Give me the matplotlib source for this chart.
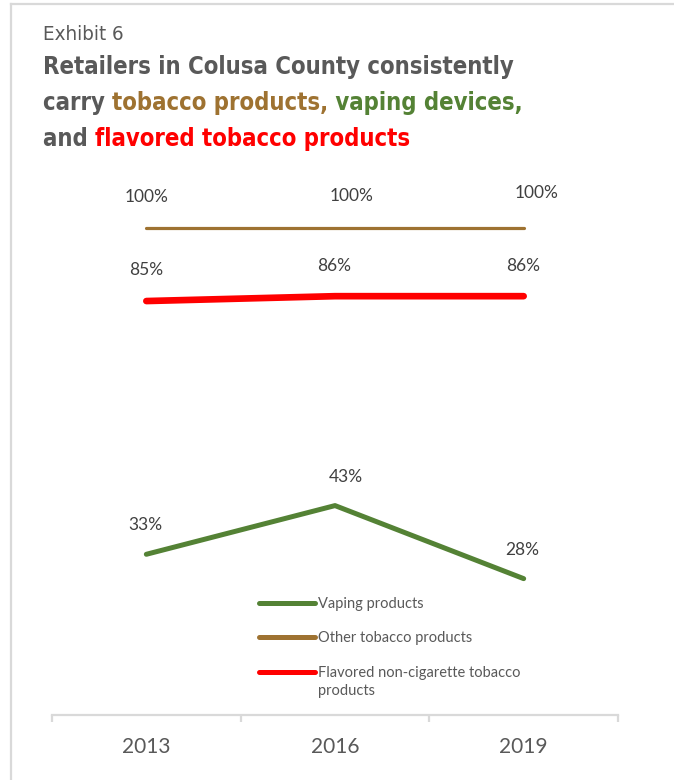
import matplotlib
matplotlib.use("Agg")
import matplotlib.pyplot as plt
from matplotlib.lines import Line2D
from matplotlib import font_manager as fm

years = ["2013", "2016", "2019"]
vaping = [33, 43, 28]
other_tobacco = [100, 100, 100]
flavored = [85, 86, 86]

# label offsets in pixels (dx, dy up) -- hand placed in the original
vaping_off = [(-1, 29), (11, 29), (-1, 29)]
other_off = [(0, 31), (17, 32), (13, 35)]
flavored_off = [(0, 31), (-1, 30), (-1, 30)]

GRAY = "#595959"
BROWN = "#9E7231"
GREEN = "#548235"
RED = "#FF0000"
LIGHT = "#D9D9D9"

# pick a narrow face for the headline if one is installed
narrow = None
for f in fm.fontManager.ttflist:
    n = f.name.lower()
    if "narrow" in n or "condensed" in n or f.stretch in ("condensed", "semi-condensed"):
        narrow = f
        break
if narrow is not None:
    head_family = [narrow.name, "DejaVu Sans"]
    head_stretch = narrow.stretch
else:
    head_family = ["DejaVu Sans"]
    head_stretch = "normal"

W, H = 674, 780
fig = plt.figure(figsize=(W / 100, H / 100), dpi=100)
renderer = fig.canvas.get_renderer()

# axes placed in pixel terms
left, right, top, bottom = 52, 618, 228, 715
ax = fig.add_axes([left / W, (H - bottom) / H, (right - left) / W, (bottom - top) / H])
ax.set_xlim(-0.5, len(years) - 0.5)
ax.set_ylim(0, 100)
ax.patch.set_alpha(0)

x = list(range(len(years)))
ax.plot(x, other_tobacco, color=BROWN, lw=2.3, solid_capstyle="round", clip_on=False)
ax.plot(x, flavored, color=RED, lw=4.8, solid_capstyle="round", clip_on=False)
ax.plot(x, vaping, color=GREEN, lw=3.6, solid_capstyle="round", clip_on=False)

px = 0.72  # points per pixel at 100 dpi


def labels(vals, offs):
    for i, (v, (dx, dy)) in enumerate(zip(vals, offs)):
        ax.annotate(f"{v}%", (i, v), xytext=(dx * px, dy * px), textcoords="offset points",
                    ha="center", va="center", fontsize=12.5, family="Lato", color="#404040")


labels(other_tobacco, other_off)
labels(flavored, flavored_off)
labels(vaping, vaping_off)

# axis styling
for s in ["left", "right", "top"]:
    ax.spines[s].set_visible(False)
ax.spines["bottom"].set_color(LIGHT)
ax.spines["bottom"].set_linewidth(1.6)
ax.set_yticks([])
ax.set_xticks(x)
ax.set_xticklabels(years, fontsize=15, family="Lato", color=GRAY)
ax.tick_params(axis="x", which="major", length=0, pad=15.5)
ax.set_xticks([i - 0.5 for i in range(len(years) + 1)], minor=True)
ax.tick_params(axis="x", which="minor", length=5, width=1.6, color=LIGHT, direction="out")

# legend, drawn by hand so the wrapped entry lines up with its first line
legend_rows = [(603, GREEN, "Vaping products"),
               (637, BROWN, "Other tobacco products"),
               (672, RED, "Flavored non-cigarette tobacco\nproducts")]
for yy, col, name in legend_rows:
    fig.add_artist(Line2D([259 / W, 315 / W], [(H - yy) / H] * 2, color=col, lw=3.6,
                          solid_capstyle="round"))
    fig.text(318 / W, (H - yy + 6) / H, name, fontsize=10.5, family="Lato", color=GRAY,
             va="top", linespacing=1.32)

# frame around the exhibit
fig.add_artist(Line2D([11 / W, 11 / W], [0, (H - 4) / H], color=LIGHT, lw=1.6))
fig.add_artist(Line2D([11 / W, 1], [(H - 4) / H, (H - 4) / H], color=LIGHT, lw=1.6))


def fit_size(txt, target_px, **kw):
    t = fig.text(0, 0, txt, fontsize=20, **kw)
    w = t.get_window_extent(renderer).width
    t.remove()
    return 20 * target_px / w


# title with coloured words
ex_size = fit_size("Exhibit 6", 81, family=head_family, fontstretch=head_stretch)
fig.text(43 / W, (H - 40) / H, "Exhibit 6", fontsize=ex_size, family=head_family,
         fontstretch=head_stretch, color=GRAY, va="baseline")

title_kw = dict(family=head_family, fontstretch=head_stretch, fontweight="bold")
title_size = fit_size("Retailers in Colusa County consistently", 472, **title_kw)
title_lines = [
    (74, [("Retailers in Colusa County consistently", GRAY)]),
    (110, [("carry ", GRAY), ("tobacco products,", BROWN), (" vaping devices,", GREEN)]),
    (146, [("and ", GRAY), ("flavored tobacco products", RED)]),
]
for base, parts in title_lines:
    xpos = 43
    for txt, col in parts:
        t = fig.text(xpos / W, (H - base) / H, txt, color=col, fontsize=title_size,
                     va="baseline", **title_kw)
        xpos += t.get_window_extent(renderer).width

fig.savefig("out.png", dpi=100)
